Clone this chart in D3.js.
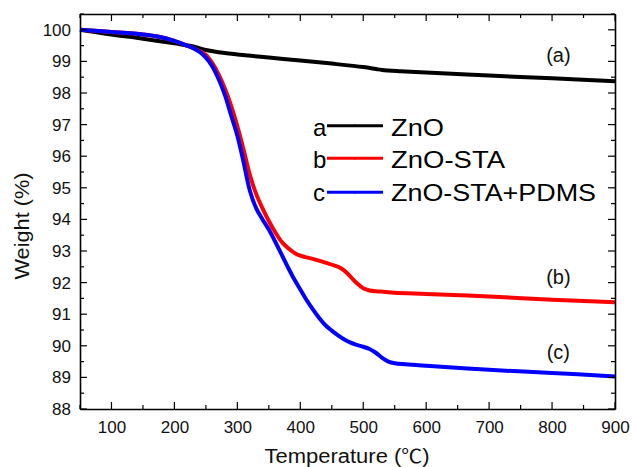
<!DOCTYPE html>
<html><head><meta charset="utf-8">
<script src="https://cdn.jsdelivr.net/npm/d3@7"></script>
<style>body{margin:0;background:#fff}svg{display:block}</style>
</head><body>
<script>
const tempA = [50,100,150,200,230,250,270,300,350,400,450,500,520,530,560,600,700,800,900];
const weightA = [100,99.85,99.72,99.57,99.47,99.36,99.29,99.22,99.12,99.03,98.93,98.82,98.76,98.73,98.69,98.65,98.55,98.47,98.37];

const tempB = [50,100,150,175,200,220,230,240,250,260,270,280,290,300,310,320,330,340,350,360,370,380,390,400,420,440,460,470,480,490,500,510,525,550,600,700,800,900];
const weightB = [100,99.93,99.85,99.78,99.65,99.5,99.42,99.32,99.2,98.95,98.6,98.15,97.6,96.95,96.2,95.4,94.8,94.35,93.95,93.6,93.3,93.1,92.95,92.85,92.75,92.63,92.5,92.38,92.18,91.98,91.82,91.75,91.72,91.68,91.64,91.56,91.46,91.38];

const tempC = [50,100,150,175,200,220,230,240,250,260,270,280,290,300,310,320,330,340,350,360,370,380,390,400,410,420,430,440,450,460,470,480,490,500,510,520,530,540,550,600,700,800,900];
const weightC = [100,99.93,99.85,99.78,99.65,99.5,99.42,99.3,99.12,98.85,98.45,97.95,97.3,96.65,95.8,94.9,94.35,94.0,93.68,93.3,92.9,92.5,92.12,91.78,91.45,91.15,90.88,90.65,90.48,90.33,90.2,90.1,90.03,89.97,89.9,89.78,89.62,89.5,89.45,89.37,89.24,89.14,89.03];

const seriesNames = ["ZnO","ZnO-STA","ZnO-STA+PDMS"];
const seriesKeys = ["a","b","c"];
const seriesColors = ["#000000","#ff0000","#0000ff"];
const xTicks = [100,200,300,400,500,600,700,800,900];
const yTicks = [88,89,90,91,92,93,94,95,96,97,98,99,100];
const xLabelParts = ["Temperature (", "\u2103", ")"];
const yLabel = "Weight (%)";
const annotations = ["(a)","(b)","(c)"];
const annotationPos = [[810,98.98],[810,91.95],[810,89.58]];

const W = 632, H = 467;
const m = {l:80, r:17, t:14, b:58};
const FONT = "'Liberation Sans', Arial, sans-serif";
const svg = d3.select("body").append("svg").attr("width",W).attr("height",H)
  .style("font-family",FONT);

const x = d3.scaleLinear().domain([50,900]).range([m.l, W-m.r]);
const y = d3.scaleLinear().domain([88,100.5]).range([H-m.b, m.t]);

const datasets = [
  tempA.map((t,i)=>[t,weightA[i]]),
  tempB.map((t,i)=>[t,weightB[i]]),
  tempC.map((t,i)=>[t,weightC[i]])
];
const line = d3.line().x(d=>x(d[0])).y(d=>y(d[1])).curve(d3.curveCatmullRom.alpha(0.5));

datasets.forEach((ds,i)=>{
  svg.append("path").datum(ds).attr("d",line).attr("fill","none")
    .attr("stroke",seriesColors[i]).attr("stroke-width",4).attr("stroke-linejoin","round");
});

const xMinor = d3.range(50,901,50);
const yMinor = d3.range(88,100.51,0.5);
const gB = svg.append("g").attr("transform",`translate(0,${H-m.b})`);
gB.call(d3.axisBottom(x).tickValues(xTicks).tickSize(0).tickPadding(12).tickFormat(d3.format("d")));
const gT = svg.append("g").attr("transform",`translate(0,${m.t})`);
gT.call(d3.axisTop(x).tickValues([]).tickSize(0));
const gL = svg.append("g").attr("transform",`translate(${m.l},0)`);
gL.call(d3.axisLeft(y).tickValues(yTicks).tickSize(0).tickPadding(9).tickFormat(d3.format("d")));
const gR = svg.append("g").attr("transform",`translate(${W-m.r},0)`);
gR.call(d3.axisRight(y).tickValues([]).tickSize(0));
[gB,gT,gL,gR].forEach(g=>{
  g.select(".domain").attr("stroke","#000").attr("stroke-width",1.6);
  g.selectAll("text").attr("font-size",17).attr("fill","#111").style("font-family",FONT);
});

const ticks = svg.append("g").attr("stroke","#000").attr("stroke-width",1.2);
xMinor.forEach(v=>{
  const L = (v%100===0)?7:4;
  ticks.append("line").attr("x1",x(v)).attr("x2",x(v)).attr("y1",H-m.b).attr("y2",H-m.b-L);
  ticks.append("line").attr("x1",x(v)).attr("x2",x(v)).attr("y1",m.t).attr("y2",m.t+L);
});
yMinor.forEach(v=>{
  const L = (Math.abs(v-Math.round(v))<1e-6)?7:4;
  ticks.append("line").attr("y1",y(v)).attr("y2",y(v)).attr("x1",m.l).attr("x2",m.l+L);
  ticks.append("line").attr("y1",y(v)).attr("y2",y(v)).attr("x1",W-m.r).attr("x2",W-m.r-L);
});

const xt = svg.append("text").attr("x",347).attr("y",463).attr("text-anchor","middle")
  .attr("font-size",20).attr("fill","#111")
  .attr("textLength",165).attr("lengthAdjust","spacingAndGlyphs");
xt.append("tspan").text(xLabelParts[0]);
xt.append("tspan").style("font-family","'Noto Sans CJK SC', sans-serif").attr("font-size",19).text(xLabelParts[1]);
xt.append("tspan").text(xLabelParts[2]);
svg.append("text").attr("transform","translate(29,226) rotate(-90)").attr("text-anchor","middle")
  .attr("font-size",20).attr("fill","#111")
  .attr("textLength",107).attr("lengthAdjust","spacingAndGlyphs").text(yLabel);

const legLineY = [125.7,158.3,192.3];
const legBase = [135.7,168.3,200.5];
const legWidths = [53,114,205];
seriesNames.forEach((n,i)=>{
  const g = svg.append("g");
  g.append("text").attr("x",313).attr("y",legBase[i])
    .attr("font-size",24).attr("fill","#000").text(seriesKeys[i]);
  g.append("line").attr("x1",327).attr("x2",383).attr("y1",legLineY[i]).attr("y2",legLineY[i])
    .attr("stroke",seriesColors[i]).attr("stroke-width",3);
  g.append("circle").attr("cx",355).attr("cy",legLineY[i]).attr("r",1.3).attr("fill",seriesColors[i]);
  g.append("text").attr("x",391).attr("y",legBase[i])
    .attr("font-size",24).attr("fill","#000")
    .attr("textLength",legWidths[i]).attr("lengthAdjust","spacingAndGlyphs").text(n);
});

annotations.forEach((a,i)=>{
  svg.append("text").attr("x",x(annotationPos[i][0])).attr("y",y(annotationPos[i][1]))
    .attr("text-anchor","middle").attr("font-size",20).attr("fill","#111").text(a);
});
</script>
</body></html>
